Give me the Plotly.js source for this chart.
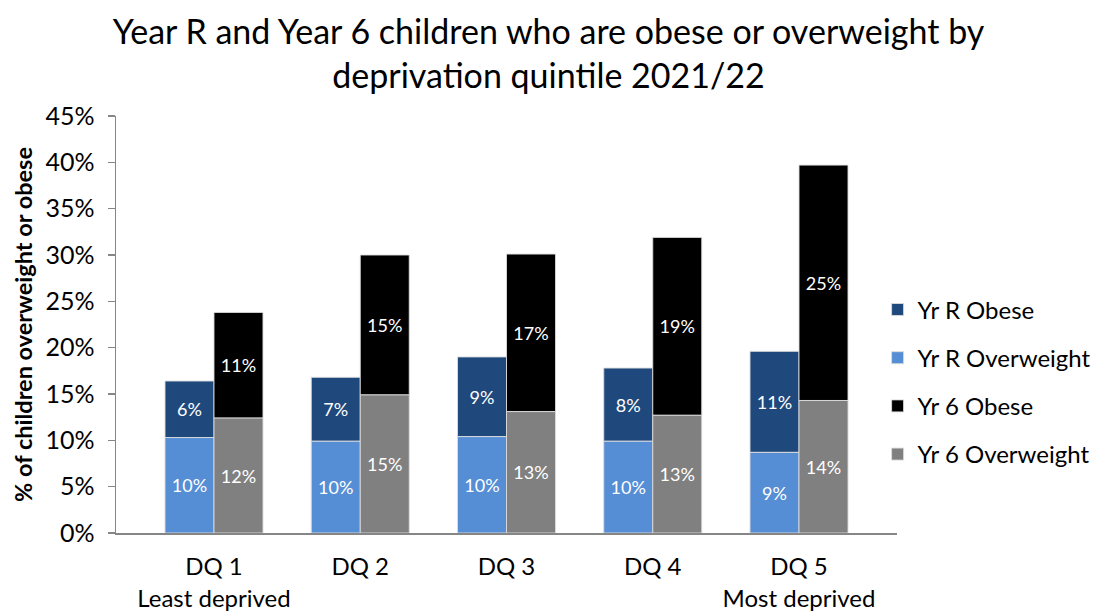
<!DOCTYPE html>
<html>
<head>
<meta charset="utf-8">
<script src="https://cdn.plot.ly/plotly-3.0.1.min.js"></script>
<style>
  html, body { margin: 0; padding: 0; background: #ffffff; }
  #chart { width: 1097px; height: 612px; }
</style>
</head>
<body>
<div id="chart"></div>
<script>
// Deprivation quintiles (1 = least deprived, 5 = most deprived)
const quintiles = ['DQ 1', 'DQ 2', 'DQ 3', 'DQ 4', 'DQ 5'];
const quintileLabels = ['DQ 1<br>Least deprived', 'DQ 2', 'DQ 3', 'DQ 4', 'DQ 5<br>Most deprived'];

// Percentages of children in each weight category
const yrROverweight = [10.3, 9.9, 10.4, 9.9, 8.7];
const yrRObese      = [6.1, 6.9, 8.6, 7.9, 10.9];
const yr6Overweight = [12.4, 14.9, 13.1, 12.7, 14.3];
const yr6Obese      = [11.4, 15.1, 17.0, 19.2, 25.4];

const FONT = 'Lato, "Open Sans", sans-serif';
const edge = { color: 'rgba(220,220,220,0.9)', width: 1 };

function barTrace(name, values, base, group, color) {
  return {
    type: 'bar',
    name: name,
    x: quintiles,
    y: values,
    base: base,
    offsetgroup: group,
    legendgroup: name,
    marker: { color: color, line: edge },
    text: values.map(v => Math.round(v) + '%'),
    textposition: 'inside',
    insidetextanchor: 'middle',
    textangle: 0,
    textfont: { color: '#ffffff', size: 18, family: FONT },
    hovertemplate: name + ' %{x}: %{y:.1f}%<extra></extra>'
  };
}

const traces = [
  barTrace('Yr R Obese', yrRObese, yrROverweight, 'yrR', '#1F497D'),
  barTrace('Yr R Overweight', yrROverweight, undefined, 'yrR', '#558ED5'),
  barTrace('Yr 6 Obese', yr6Obese, yr6Overweight, 'yr6', '#000000'),
  barTrace('Yr 6 Overweight', yr6Overweight, undefined, 'yr6', '#808080')
];

const layout = {
  width: 1097,
  height: 612,
  paper_bgcolor: '#ffffff',
  plot_bgcolor: '#ffffff',
  font: { family: FONT, color: '#000000' },
  margin: { l: 116, r: 200, t: 116, b: 79, autoexpand: false },
  barmode: 'group',
  bargap: 0.33,
  bargroupgap: 0,
  title: {
    text: 'Year R and Year 6 children who are obese or overweight by<br>deprivation quintile 2021/22',
    font: { size: 34, family: FONT, color: '#000000' },
    x: 0.5,
    xanchor: 'center',
    y: 0.928,
    yanchor: 'middle'
  },
  xaxis: {
    type: 'category',
    range: [-0.67, 4.67],
    tickvals: quintiles,
    ticktext: quintileLabels,
    showline: true,
    linecolor: '#868686',
    linewidth: 1.5,
    ticks: '',
    ticklabelstandoff: 12,
    showgrid: false,
    zeroline: false,
    automargin: false,
    tickfont: { size: 24, family: FONT, color: '#000000' }
  },
  yaxis: {
    range: [0, 45],
    dtick: 5,
    ticksuffix: '%',
    showline: true,
    linecolor: '#868686',
    linewidth: 1.5,
    ticks: 'outside',
    ticklen: 7,
    tickcolor: '#868686',
    tickwidth: 1.5,
    ticklabelstandoff: 8,
    showgrid: false,
    zeroline: false,
    automargin: false,
    tickfont: { size: 25, family: FONT, color: '#000000' },
    title: {
      text: '<b>% of children overweight or obese</b>',
      font: { size: 23.5, family: FONT, color: '#000000' },
      standoff: 6
    }
  },
  legend: {
    xref: 'container',
    x: 0.8,
    xanchor: 'left',
    yref: 'container',
    y: 0.376,
    yanchor: 'middle',
    traceorder: 'grouped',
    tracegroupgap: 14,
    font: { size: 24, family: FONT, color: '#000000' },
    bgcolor: 'rgba(0,0,0,0)'
  },
  showlegend: true
};

Plotly.newPlot('chart', traces, layout, { displayModeBar: false, staticPlot: true });
</script>
</body>
</html>
